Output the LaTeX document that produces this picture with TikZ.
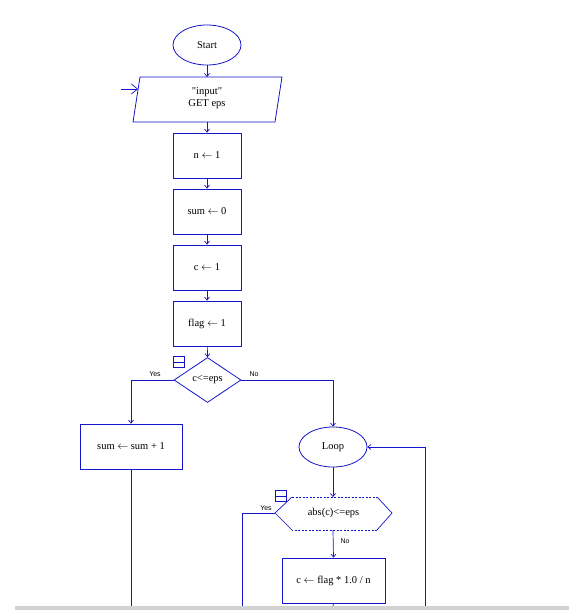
\documentclass[tikz,border=0pt]{standalone}
\usepackage{fontspec}
\setmainfont{Liberation Serif}
\newfontfamily\lblfont{Liberation Sans}
\usetikzlibrary{arrows.meta,shapes.geometric}
\definecolor{fc}{RGB}{20,20,200}
\tikzset{
  every node/.style={font=\fontsize{10.5}{11.5}\selectfont},
  conn/.style={draw=fc, line width=0.7pt},
  arr/.style={conn, -{Straight Barb[length=3pt,width=5pt]}},
  procbox/.style={draw=fc, line width=0.8pt, minimum width=68pt, minimum height=45pt, inner sep=0pt},
  oval/.style={draw=fc, ellipse, line width=0.8pt, minimum width=68pt, minimum height=40pt, inner sep=0pt},
  lbl/.style={font=\lblfont\fontsize{7}{8}\selectfont, inner sep=0pt},
  icon/.style={draw=fc, line width=0.7pt, minimum width=11pt, minimum height=11pt, inner sep=0pt},
}
\begin{document}
\begin{tikzpicture}[x=1pt,y=-1pt]
\useasboundingbox (0,0) rectangle (569,610);
\fill[gray!35] (15,606) rectangle (569,610);
% start
\node[oval] (start) at (207,45) {Start};
% input parallelogram
\coordinate (in1) at (140,77);
\coordinate (in2) at (282,77);
\coordinate (in3) at (275,122);
\coordinate (in4) at (133,122);
\draw[fc, line width=0.8pt] (in1) -- (in2) -- (in3) -- (in4) -- cycle;
\node[align=center] (input) at (207,98) {\textquotedbl input\textquotedbl\\GET eps};
\coordinate (inA) at (121,89);
\coordinate (inB) at (138,89);
\draw[conn, -{Straight Barb[length=6pt,width=10pt]}] (inA) -- (inB);
\node[procbox] (n1) at (207,155.5) {n $\leftarrow$ 1};
\node[procbox] (s0) at (207,211.5) {sum $\leftarrow$ 0};
\node[procbox] (c1) at (207,267.5) {c $\leftarrow$ 1};
\node[procbox] (f1) at (207,323.5) {flag $\leftarrow$ 1};
\draw[arr] (start.south) -- (207,77);
\draw[arr] (207,122) -- (n1.north);
\draw[arr] (n1) -- (s0);
\draw[arr] (s0) -- (c1);
\draw[arr] (c1) -- (f1);
% decision
\node[diamond, draw=fc, line width=0.8pt, minimum width=67pt, minimum height=45pt, inner sep=0pt, aspect=1.5] (d1) at (207.5,380) {c<=eps};
\draw[arr] (f1) -- (d1.north);
\node[icon] (ic1) at (179,362) {};
\draw[fc, line width=0.7pt] (ic1.west) -- (ic1.east);
\node[lbl] (yes1) at (155,374) {Yes};
\node[lbl] (no1) at (254,374) {No};
\node[procbox, minimum width=102pt] (sum1) at (131,446.5) {sum $\leftarrow$ sum + 1};
\node[oval] (loop) at (333,447) {Loop};
\draw[arr] (d1.west) -| (sum1.north);
\draw[arr] (d1.east) -| (loop.north);
\coordinate (e1) at (131,606);
\draw[conn] (sum1.south) -- (e1);
% hexagon
\coordinate (h1) at (292,497);
\coordinate (h2) at (377,497);
\coordinate (h3) at (392,513);
\coordinate (h4) at (377,530);
\coordinate (h5) at (292,530);
\coordinate (h6) at (275,513);
\draw[fc, line width=0.6pt, dashed, dash pattern=on 2pt off 1.5pt] (h1) -- (h2) (h4) -- (h5);
\draw[fc, line width=0.7pt] (h2) -- (h3) -- (h4) (h5) -- (h6) -- (h1);
\node (hex) at (333.5,513) {abs(c)<=eps};
\coordinate (htop) at (333,497);
\coordinate (hbot) at (333,530);
\draw[arr] (loop.south) -- (htop);
\node[icon] (ic2) at (281,496) {};
\draw[fc, line width=0.7pt] (ic2.west) -- (ic2.east);
\node[lbl] (yes2) at (266,508) {Yes};
\node[lbl] (no2) at (345,541) {No};
\coordinate (e2) at (242,606);
\draw[conn] (h6) -- (242,513) -- (e2);
\node[procbox, minimum width=103pt] (cbox) at (333.5,580.5) {c $\leftarrow$ flag * 1.0 / n};
\draw[arr] (hbot) -- (cbox.north);
\coordinate (e3) at (333,606);
\draw[conn] (cbox.south) -- (e3);
\coordinate (e4) at (425,606);
\draw[arr] (e4) |- (loop.east);
\end{tikzpicture}
\end{document}
